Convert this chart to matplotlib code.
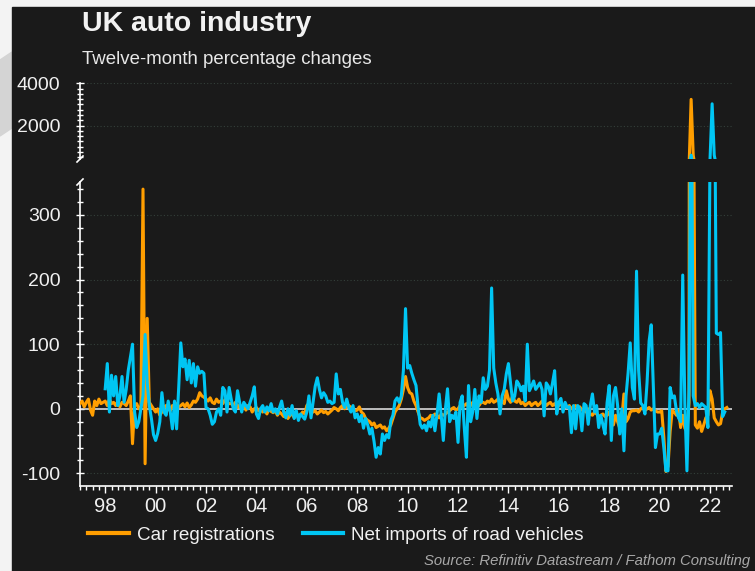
import matplotlib
matplotlib.use("Agg")
import matplotlib.pyplot as plt
from matplotlib.lines import Line2D
from matplotlib.patches import Rectangle, Polygon
from matplotlib.ticker import MultipleLocator, FuncFormatter
import numpy as np

# monthly data, twelve-month % changes
car_start = 1997  # Jan 1997
imp_start = 1998  # Jan 1998

car_reg = [
    8, 12, 3, 10, 15, -2, -10, 12, 5, 15, 8, 10,            # 1997
    12, 5, 15, 8, 10, 5, 12, 3, 10, 8, 5, 12,               # 1998
    20, -54, 5, 8, 0, 2, 340, -85, 140, 10, 5, 0,           # 1999
    -5, 0, -10, -5, 2, 5, 0, -3, 5, 0, 8, 3,                # 2000
    5, 8, 3, 9, 2, 6, 12, 10, 15, 25, 20, 18,               # 2001
    15, 12, 17, 10, 8, 15, 10, 12, 8, 14, 10, 8,            # 2002
    8, 5, 10, 2, 6, 0, 8, -2, 5, 3, -5, 0,                  # 2003
    2, -3, 0, -5, -2, -8, 0, -4, -6, -3, -10, -5,           # 2004
    -8, -12, -6, -15, -10, -8, -14, -6, -12, -10, -5, -8,   # 2005
    5, 8, 2, -5, -3, -8, -5, -2, -6, -4, -8, -5,            # 2006
    -2, 2, 0, -3, 2, 5, 0, 3, 5, 2, 0, -3,                  # 2007
    -2, 3, -5, -8, -15, -18, -20, -25, -22, -29, -27, -25,  # 2008
    -30, -28, -34, -30, -25, -15, -5, 0, 5, 15, 30, 50,     # 2009
    33, 25, 23, 12, 5, -5, -14, -15, -18, -16, -14, -10,    # 2010
    -12, -8, -10, -14, -8, -10, -8, -5, -3, 0, 2, -2,       # 2011
    0, 5, 2, 5, 8, 3, 5, 10, 5, 8, 5, 10,                   # 2012
    10, 8, 12, 10, 15, 10, 12, 15, 10, 12, 8, 28,           # 2013
    15, 10, 20, 12, 10, 15, 8, 10, 5, 8, 10, 5,             # 2014
    8, 10, 5, 8, 12, 10, 5, 8, 10, 5, 8, 3,                 # 2015
    5, 8, 3, 5, 2, 5, 0, 3, 5, 0, 3, -2,                    # 2016
    -2, -5, 0, -8, -10, -5, -8, -12, -10, -8, -12, -10,     # 2017
    -5, -15, -25, -10, -20, -30, -15, 23, -20, -15, -5, -3, # 2018
    -3, -2, -5, 0, 2, -3, 0, 2, -2, 0, -3, -5,              # 2019
    -5, -3, -44, -97, -89, -35, -3, -5, -10, -2, -29, -10,  # 2020
    -30, -35, 10, 3240, 600, -25, -30, -20, -35, -25, -14, -10,  # 2021
    28, 15, -14, -20, -25, -23, -5, 0, 2,                   # 2022
]

net_imports = [
    31, 70, -5, 52, 20, 50, 5, 20, 50, 10, 30, 60,          # 1998
    80, 100, -5, -29, -20, 0, 20, 115, 40, 5, -15, -40,     # 1999
    -49, -38, -20, 25, -5, -10, 12, -5, -31, 12, -31, 33,   # 2000
    102, 65, 77, 45, 75, 40, 70, 35, 65, 55, 58, 55,        # 2001
    2, 0, -10, -24, -20, -5, 0, -10, 33, 28, -5, 33,        # 2002
    15, 0, -5, 28, 10, -5, 10, 5, 0, 10, 20, 34,            # 2003
    -8, -15, 0, 5, -5, 3, -3, 8, -5, 0, -8, 2,              # 2004
    12, -5, -14, 0, -10, 5, -15, -3, -18, -8, -12, -16,     # 2005
    -5, 20, -14, 10, 35, 48, 30, 17, 25, 20, 10, 12,        # 2006
    8, 10, 54, 23, 30, 10, 2, 15, 2, -5, 5, -14,            # 2007
    -8, -20, -10, -30, -15, -25, -39, -30, -50, -75, -60, -70,  # 2008
    -39, -49, -40, -45, -18, -10, 12, 17, 10, 20, 60, 155,  # 2009
    63, 67, 55, 45, 36, 2, -24, -30, -25, -34, -20, -28,    # 2010
    -10, -34, -8, 23, -10, -49, 0, 31, -20, -10, -15, -5,   # 2011
    -52, 10, 20, -30, -75, 36, -20, -5, 30, -15, 20, 10,    # 2012
    48, 30, 35, 60, 187, 63, 40, 23, -8, 20, 30, 54,        # 2013
    70, 40, 12, 20, 43, 38, 28, 35, 12, 100, 28, 35,        # 2014
    43, 30, 35, 40, 30, -11, 40, 35, 23, 40, 59, -8,        # 2015
    10, 16, -5, 10, 2, 3, -37, 5, -31, 5, 0, -34,           # 2016
    8, 5, -24, 5, 23, -5, 5, -29, -10, -25, -39, 10,        # 2017
    36, -49, 20, 33, 5, -39, 0, -65, 20, 56, 102, 33,       # 2018
    15, 213, 59, 9, 5, -8, 40, 105, 130, 33, -60, -39,      # 2019
    -39, -30, -60, -96, -96, 33, 17, 20, -3, -14, -20, 207, # 2020
    8, -96, 30, 600, 20, 5, 8, 2, 8, 5, 2, -29,             # 2021
    400, 3030, 600, 117, 115, 118, -12, -5,                 # 2022
]

labels = ["Car registrations", "Net imports of road vehicles"]
colors = ["#FF9E00", "#00C6F4"]

t_car = car_start + np.arange(len(car_reg)) / 12
t_imp = imp_start + np.arange(len(net_imports)) / 12

plt.rcParams['font.family'] = ['Liberation Sans', 'DejaVu Sans']
plt.rcParams['axes.unicode_minus'] = False

W, H = 755, 571
bg = '#1a1a1a'
fig = plt.figure(figsize=(W / 100, H / 100), dpi=100, facecolor='#f3f3f3')

# watermark bits and dark panel
fig.patches.append(Polygon([(0, 1 - 60 / H), (12 / W, 1 - 52 / H), (12 / W, 1 - 128 / H), (0, 1 - 136 / H)],
                           closed=True, transform=fig.transFigure, color='#d4d4d4', zorder=-2))
fig.patches.append(Rectangle((12 / W, 0), (W - 12) / W, (H - 7) / H, transform=fig.transFigure,
                             color=bg, zorder=-1))

x0, x1 = 80 / W, 731.7 / W
ax_top = fig.add_axes([x0, 1 - 159 / H, x1 - x0, (159 - 83.3) / H])
ax = fig.add_axes([x0, 1 - 485.7 / H, x1 - x0, (485.7 - 182) / H])

for a in (ax_top, ax):
    a.set_facecolor(bg)
    a.plot(t_car, car_reg, color=colors[0], lw=2.2, zorder=3, solid_joinstyle='round')
    a.plot(t_imp, net_imports, color=colors[1], lw=2.2, zorder=4, solid_joinstyle='round')
    a.set_xlim(1997.0, 2022.86)
    for s in ('top', 'right'):
        a.spines[s].set_visible(False)
    a.spines['left'].set_color('white')
    a.spines['left'].set_linewidth(1.2)
    a.yaxis.grid(True, linestyle=(0, (1, 2)), color='#34403a', lw=0.8)
    a.set_axisbelow(True)
    a.tick_params(axis='y', which='major', direction='inout', length=6, width=1,
                  colors='white', labelcolor='#f0f0f0', labelsize=14, pad=11)
    a.tick_params(axis='y', which='minor', direction='inout', length=4, width=1, colors='white')

ax_top.set_ylim(420, 4000)
ax_top.yaxis.set_major_locator(MultipleLocator(2000))
ax_top.yaxis.set_minor_locator(MultipleLocator(250))
ax_top.spines['bottom'].set_visible(False)
ax_top.tick_params(axis='x', which='both', bottom=False, labelbottom=False)

ax.set_ylim(-119, 351)
ax.yaxis.set_major_locator(MultipleLocator(100))
ax.yaxis.set_minor_locator(MultipleLocator(20))
ax.axhline(0, color='#d8d8d8', lw=1.2, zorder=2)
ax.spines['bottom'].set_color('white')
ax.spines['bottom'].set_linewidth(1.2)
ax.xaxis.set_major_locator(MultipleLocator(2))
ax.xaxis.set_minor_locator(MultipleLocator(0.25))
ax.xaxis.set_major_formatter(FuncFormatter(lambda v, p: f"{int(round(v)) % 100:02d}"))
ax.tick_params(axis='x', which='major', direction='out', length=5, width=1,
               colors='white', labelcolor='#f0f0f0', labelsize=14.5, pad=3)
ax.tick_params(axis='x', which='minor', direction='out', length=3, width=1, colors='white')

# axis break marks on the left spine
def brk(a, ypos):
    bb = a.get_position()
    dx = 3 / (bb.width * W)
    dy = 3 / (bb.height * H)
    a.plot([-dx, dx], [ypos - dy, ypos + dy], transform=a.transAxes, color='white',
           lw=1.2, clip_on=False, zorder=5)

brk(ax, 1)
brk(ax_top, 0)

fig.text(82 / W, 1 - 24 / H, "UK auto industry", fontsize=20.5, fontweight='bold',
         color='#f2f2f2', va='center', ha='left')
fig.text(82 / W, 1 - 60 / H, "Twelve-month percentage changes", fontsize=13.4,
         color='#e8e8e8', va='center', ha='left')

handles = [Line2D([], [], color=c, lw=3) for c in colors]
leg = fig.legend(handles, labels, loc='center left', bbox_to_anchor=(88 / W, 1 - 535 / H),
                 ncol=2, frameon=False, borderpad=0, borderaxespad=0, handlelength=2.17,
                 handletextpad=0.42, columnspacing=1.48, fontsize=13.6)
for txt in leg.get_texts():
    txt.set_color('#f0f0f0')

fig.text(750 / W, 1 - 561 / H, "Source: Refinitiv Datastream / Fathom Consulting",
         fontsize=10.7, style='italic', color='#a8a8a8', ha='right', va='center')

fig.savefig("out.png", dpi=100, facecolor=fig.get_facecolor())
